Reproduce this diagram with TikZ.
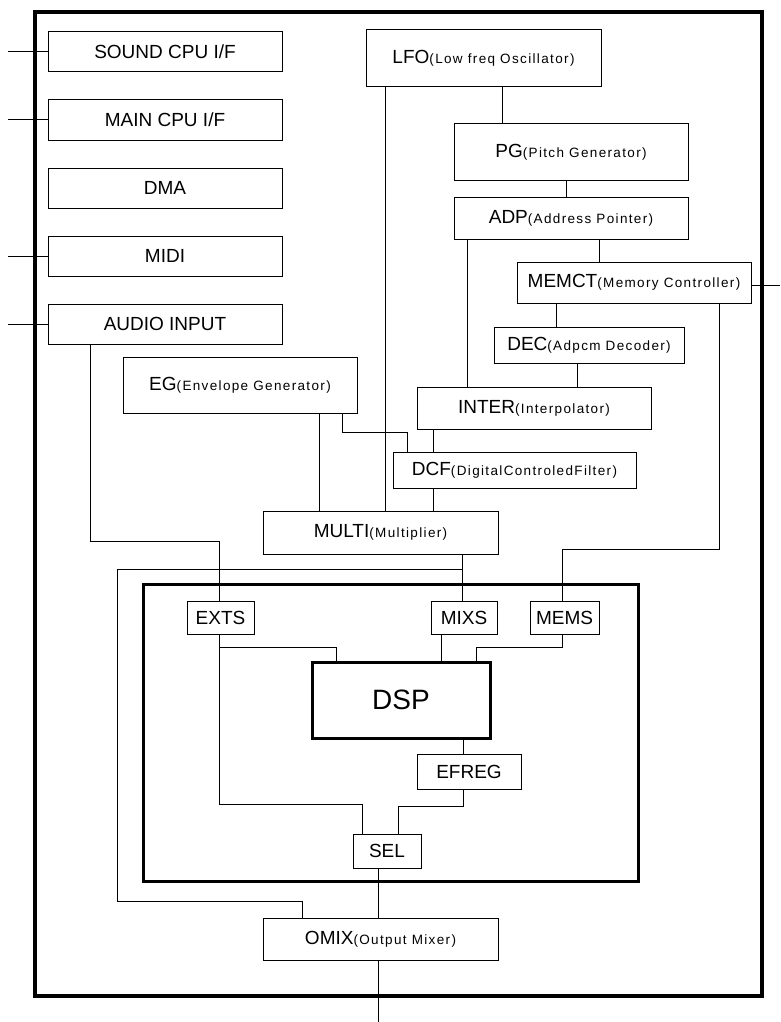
\documentclass[tikz,border=0pt]{standalone}
\usepackage{fontspec}
\setmainfont{Liberation Sans}
\newfontfamily\smallfam[LetterSpace=10]{Liberation Sans}
\newcommand{\bigtxt}{\fontsize{19}{21}\selectfont}
\newcommand{\smalltxt}{\smallfam\fontsize{13.5}{15}\selectfont}
\newcommand{\blk}[2]{#1{\smalltxt(#2)}}
\begin{document}
\begin{tikzpicture}[x=1pt,y=-1pt,node distance=68pt,line width=1pt,
			block node/.style={rectangle,draw,inner sep=0pt,outer sep=0pt,font=\bigtxt,minimum width=234pt,minimum height=40pt},
			port node/.style={rectangle,draw,inner sep=0pt,outer sep=0pt,font=\bigtxt,minimum height=33pt},
			frame/.style={draw,line width=3pt}]
			
			\useasboundingbox (0,0) rectangle (780,1022);
			\coordinate (edgeL) at (8,0);
			\coordinate (edgeR) at (780,0);
			
			\draw[line width=4pt] (35,12) rectangle (762,996);
			\draw[frame] (143,584) rectangle (638,881);
			
			\node[block node] (SCPU) at (165,52) {SOUND CPU I/F};
			\node[block node] (MCPU) [below of=SCPU] {MAIN CPU I/F};
			\node[block node] (DMA) [below of=MCPU] {DMA};
			\node[block node] (MIDI) [below of=DMA] {MIDI};
			\node[block node] (AUDIO) [below of=MIDI] {AUDIO INPUT};
			
			\node[block node,minimum width=235pt,minimum height=57pt] (LFO) at (483.5,58.5) {\blk{LFO}{Low freq Oscillator}};
			\node[block node,minimum height=56pt] (PG) at (571,152) {\blk{PG}{Pitch Generator}};
			\node[block node,minimum height=42pt] (ADP) at (571,218) {\blk{ADP}{Address Pointer}};
			\node[block node,minimum height=41pt] (MEMCT) at (634,282.5) {\blk{MEMCT}{Memory Controller}};
			\node[block node,minimum width=190pt,minimum height=36pt] (DEC) at (589,345) {\blk{DEC}{Adpcm Decoder}};
			\node[block node,minimum height=42pt] (INTER) at (534,408) {\blk{INTER}{Interpolator}};
			\node[block node,minimum width=243pt,minimum height=36pt] (DCF) at (514.5,470) {\blk{DCF}{DigitalControledFilter}};
			\node[block node,minimum height=56pt] (EG) at (240,385) {\blk{EG}{Envelope Generator}};
			\node[block node,minimum width=235pt,minimum height=43pt] (MULTI) at (380.5,532.5) {\blk{MULTI}{Multiplier}};
			
			\node[port node,minimum width=67pt] (EXTS) at (220.5,617.5) {EXTS};
			\node[port node,minimum width=66pt] (MIXS) at (464,617.5) {MIXS};
			\node[port node,minimum width=69pt] (MEMS) at (564.5,617.5) {MEMS};
			\node[rectangle,frame,inner sep=0pt,outer sep=0pt,minimum width=178pt,minimum height=76pt,font=\fontsize{28}{30}\selectfont] (DSP) at (401,700) {DSP};
			\node[port node,minimum width=104pt,minimum height=35pt] (EFREG) at (469,771.5) {EFREG};
			\node[port node,minimum width=68pt,minimum height=34pt] (SEL) at (387,851) {SEL};
			\node[block node,minimum width=235pt,minimum height=42pt] (OMIX) at (380.5,939) {\blk{OMIX}{Output Mixer}};
			
			\draw (SCPU.west) -- (SCPU.west -| edgeL);
			\draw (MCPU.west) -- (MCPU.west -| edgeL);
			\draw (MIDI.west) -- (MIDI.west -| edgeL);
			\draw (AUDIO.west) -- (AUDIO.west -| edgeL);
			\draw ([yshift=-3pt]MEMCT.east) -- ([yshift=-3pt]MEMCT.east -| edgeR);
			
			\draw ([xshift=136pt]LFO.south west) -- ([xshift=48pt]PG.north west);
			\draw ([xshift=19pt]LFO.south west) -- ([xshift=122pt]MULTI.north west);
			\draw ([xshift=112pt]PG.south west) -- ([xshift=112pt]ADP.north west);
			\draw ([xshift=145pt]ADP.south west) -- ([xshift=82pt]MEMCT.north west);
			\draw ([xshift=13pt]ADP.south west) -- ([xshift=50pt]INTER.north west);
			\draw ([xshift=39pt]MEMCT.south west) -- ([xshift=62pt]DEC.north west);
			\draw ([xshift=83pt]DEC.south west) -- ([xshift=160pt]INTER.north west);
			\draw ([xshift=16pt]INTER.south west) -- ([xshift=40pt]DCF.north west);
			\draw ([xshift=40pt]DCF.south west) -- ([xshift=170pt]MULTI.north west);
			\draw ([xshift=196pt]EG.south west) -- ([xshift=56pt]MULTI.north west);
			\draw ([xshift=219pt]EG.south west) -- ++(0,19) -| ([xshift=14pt]DCF.north west);
			\draw ([xshift=202pt]MEMCT.south west) -- ++(0,246) -| ([xshift=-2pt]MEMS.north);
			\draw ([xshift=42pt]AUDIO.south west) -- ++(0,197) -| ([xshift=-1pt]EXTS.north);
			\draw ([xshift=199pt]MULTI.south west) coordinate (tap) -- ([xshift=-2pt]MIXS.north);
			\draw ([yshift=-15pt]tap) -- ++(-345,0) -- ++(0,332) -| ([xshift=39pt]OMIX.north west);
			
			\draw ([xshift=-1pt]EXTS.south) -- ++(0,170) -| ([xshift=9pt]SEL.north west);
			\draw ([xshift=-1pt]EXTS.south) -- ++(0,13) -| ([xshift=24pt]DSP.north west);
			\draw ([xshift=10pt]MIXS.south west) -- ([xshift=129pt]DSP.north west);
			\draw ([xshift=-2pt]MEMS.south) -- ++(0,13) -| ([xshift=164pt]DSP.north west);
			\draw ([xshift=151pt]DSP.south west) -- ([xshift=46pt]EFREG.north west);
			\draw ([xshift=46pt]EFREG.south west) -- ++(0,17) -| ([xshift=45pt]SEL.north west);
			\draw ([xshift=25pt]SEL.south west) -- ([xshift=115pt]OMIX.north west);
			\draw ([xshift=115pt]OMIX.south west) -- ++(0,62);
			\end{tikzpicture}
\end{document}
